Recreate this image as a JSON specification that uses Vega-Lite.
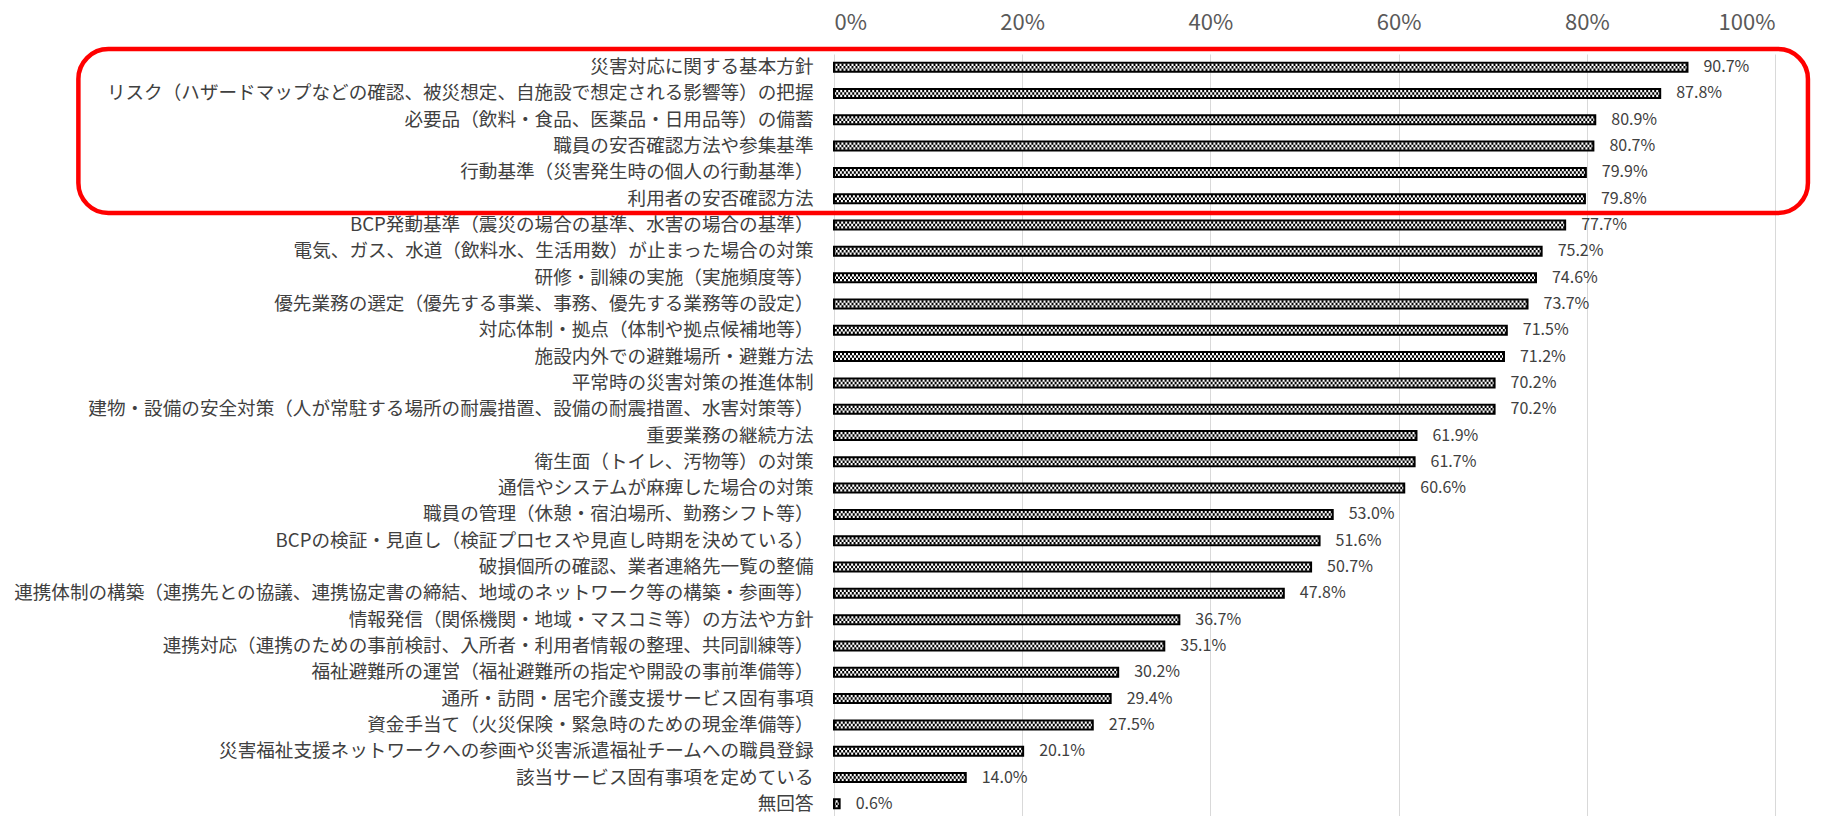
{
  "$schema": "https://vega.github.io/schema/vega-lite/v6.json",
  "width": 941,
  "height": 762,
  "autosize": {"type": "none"},
  "padding": {"left": 834, "top": 54, "right": 46, "bottom": 0},
  "background": "white",
  "config": {"view": {"stroke": null}, "font": "Noto Sans CJK JP"},
  "datasets": {
    "main": [
      {"cat": "災害対応に関する基本方針", "v": 0.907},
      {"cat": "リスク（ハザードマップなどの確認、被災想定、自施設で想定される影響等）の把握", "v": 0.878},
      {"cat": "必要品（飲料・食品、医薬品・日用品等）の備蓄", "v": 0.809},
      {"cat": "職員の安否確認方法や参集基準", "v": 0.807},
      {"cat": "行動基準（災害発生時の個人の行動基準）", "v": 0.799},
      {"cat": "利用者の安否確認方法", "v": 0.798},
      {"cat": "BCP発動基準（震災の場合の基準、水害の場合の基準）", "v": 0.777},
      {"cat": "電気、ガス、水道（飲料水、生活用数）が止まった場合の対策", "v": 0.752},
      {"cat": "研修・訓練の実施（実施頻度等）", "v": 0.746},
      {"cat": "優先業務の選定（優先する事業、事務、優先する業務等の設定）", "v": 0.737},
      {"cat": "対応体制・拠点（体制や拠点候補地等）", "v": 0.715},
      {"cat": "施設内外での避難場所・避難方法", "v": 0.712},
      {"cat": "平常時の災害対策の推進体制", "v": 0.702},
      {"cat": "建物・設備の安全対策（人が常駐する場所の耐震措置、設備の耐震措置、水害対策等）", "v": 0.702},
      {"cat": "重要業務の継続方法", "v": 0.619},
      {"cat": "衛生面（トイレ、汚物等）の対策", "v": 0.617},
      {"cat": "通信やシステムが麻痺した場合の対策", "v": 0.606},
      {"cat": "職員の管理（休憩・宿泊場所、勤務シフト等）", "v": 0.530},
      {"cat": "BCPの検証・見直し（検証プロセスや見直し時期を決めている）", "v": 0.516},
      {"cat": "破損個所の確認、業者連絡先一覧の整備", "v": 0.507},
      {"cat": "連携体制の構築（連携先との協議、連携協定書の締結、地域のネットワーク等の構築・参画等）", "v": 0.478},
      {"cat": "情報発信（関係機関・地域・マスコミ等）の方法や方針", "v": 0.367},
      {"cat": "連携対応（連携のための事前検討、入所者・利用者情報の整理、共同訓練等）", "v": 0.351},
      {"cat": "福祉避難所の運営（福祉避難所の指定や開設の事前準備等）", "v": 0.302},
      {"cat": "通所・訪問・居宅介護支援サービス固有事項", "v": 0.294},
      {"cat": "資金手当て（火災保険・緊急時のための現金準備等）", "v": 0.275},
      {"cat": "災害福祉支援ネットワークへの参画や災害派遣福祉チームへの職員登録", "v": 0.201},
      {"cat": "該当サービス固有事項を定めている", "v": 0.140},
      {"cat": "無回答", "v": 0.006}
    ],
    "box": [
      {"from": "災害対応に関する基本方針", "to": "BCP発動基準（震災の場合の基準、水害の場合の基準）", "x0": -0.803, "x1": 1.035}
    ]
  },
  "layer": [
    {
      "data": {"name": "main"},
      "mark": {"type": "bar", "size": 9, "fill": "white", "stroke": "black", "strokeWidth": 2},
      "encoding": {
        "y": {
          "field": "cat", "type": "nominal", "sort": null,
          "scale": {"domain": ["災害対応に関する基本方針","リスク（ハザードマップなどの確認、被災想定、自施設で想定される影響等）の把握","必要品（飲料・食品、医薬品・日用品等）の備蓄","職員の安否確認方法や参集基準","行動基準（災害発生時の個人の行動基準）","利用者の安否確認方法","BCP発動基準（震災の場合の基準、水害の場合の基準）","電気、ガス、水道（飲料水、生活用数）が止まった場合の対策","研修・訓練の実施（実施頻度等）","優先業務の選定（優先する事業、事務、優先する業務等の設定）","対応体制・拠点（体制や拠点候補地等）","施設内外での避難場所・避難方法","平常時の災害対策の推進体制","建物・設備の安全対策（人が常駐する場所の耐震措置、設備の耐震措置、水害対策等）","重要業務の継続方法","衛生面（トイレ、汚物等）の対策","通信やシステムが麻痺した場合の対策","職員の管理（休憩・宿泊場所、勤務シフト等）","BCPの検証・見直し（検証プロセスや見直し時期を決めている）","破損個所の確認、業者連絡先一覧の整備","連携体制の構築（連携先との協議、連携協定書の締結、地域のネットワーク等の構築・参画等）","情報発信（関係機関・地域・マスコミ等）の方法や方針","連携対応（連携のための事前検討、入所者・利用者情報の整理、共同訓練等）","福祉避難所の運営（福祉避難所の指定や開設の事前準備等）","通所・訪問・居宅介護支援サービス固有事項","資金手当て（火災保険・緊急時のための現金準備等）","災害福祉支援ネットワークへの参画や災害派遣福祉チームへの職員登録","該当サービス固有事項を定めている","無回答"], "range": [0, 763], "paddingInner": 0, "paddingOuter": 0},
          "axis": {"title": null, "ticks": false, "domain": false, "grid": false, "labelFontSize": 18.6, "labelColor": "#404040", "labelPadding": 21, "labelLimit": 1000}
        },
        "x": {
          "field": "v", "type": "quantitative",
          "scale": {"domain": [0, 1], "nice": false},
          "axis": {"orient": "top", "title": null, "values": [0, 0.2, 0.4, 0.6, 0.8, 1], "format": "%", "ticks": false, "domain": false, "grid": true, "gridColor": "#d9d9d9", "gridWidth": 1, "labelFontSize": 22, "labelColor": "#595959", "labelPadding": 20}
        }
      }
    },
    {
      "data": {"name": "main"},
      "mark": {"type": "rule", "stroke": "black", "strokeWidth": 2.5, "strokeDash": [2, 2], "strokeDashOffset": 0, "yOffset": -2.5},
      "encoding": {
        "y": {"field": "cat", "type": "nominal", "sort": null},
        "x": {"field": "v", "type": "quantitative"},
        "x2": {"datum": 0}
      }
    },
    {
      "data": {"name": "main"},
      "mark": {"type": "rule", "stroke": "black", "strokeWidth": 2.5, "strokeDash": [2, 2], "strokeDashOffset": 2, "yOffset": 0},
      "encoding": {
        "y": {"field": "cat", "type": "nominal", "sort": null},
        "x": {"field": "v", "type": "quantitative"},
        "x2": {"datum": 0}
      }
    },
    {
      "data": {"name": "main"},
      "mark": {"type": "rule", "stroke": "black", "strokeWidth": 2.5, "strokeDash": [2, 2], "strokeDashOffset": 0, "yOffset": 2.5},
      "encoding": {
        "y": {"field": "cat", "type": "nominal", "sort": null},
        "x": {"field": "v", "type": "quantitative"},
        "x2": {"datum": 0}
      }
    },
    {
      "data": {"name": "main"},
      "mark": {"type": "text", "align": "left", "baseline": "middle", "dx": 16, "fontSize": 16, "fill": "#404040"},
      "encoding": {
        "y": {"field": "cat", "type": "nominal", "sort": null},
        "x": {"field": "v", "type": "quantitative"},
        "text": {"field": "v", "type": "quantitative", "format": ".1%"}
      }
    },
    {
      "data": {"name": "box"},
      "mark": {"type": "rect", "fillOpacity": 0, "stroke": "#ff0000", "strokeWidth": 4.5, "cornerRadius": 30, "yOffset": -5, "y2Offset": -12, "clip": false},
      "encoding": {
        "y": {"field": "from", "type": "nominal", "bandPosition": 0},
        "y2": {"field": "to"},
        "x": {"field": "x0", "type": "quantitative"},
        "x2": {"field": "x1"}
      }
    }
  ]
}
